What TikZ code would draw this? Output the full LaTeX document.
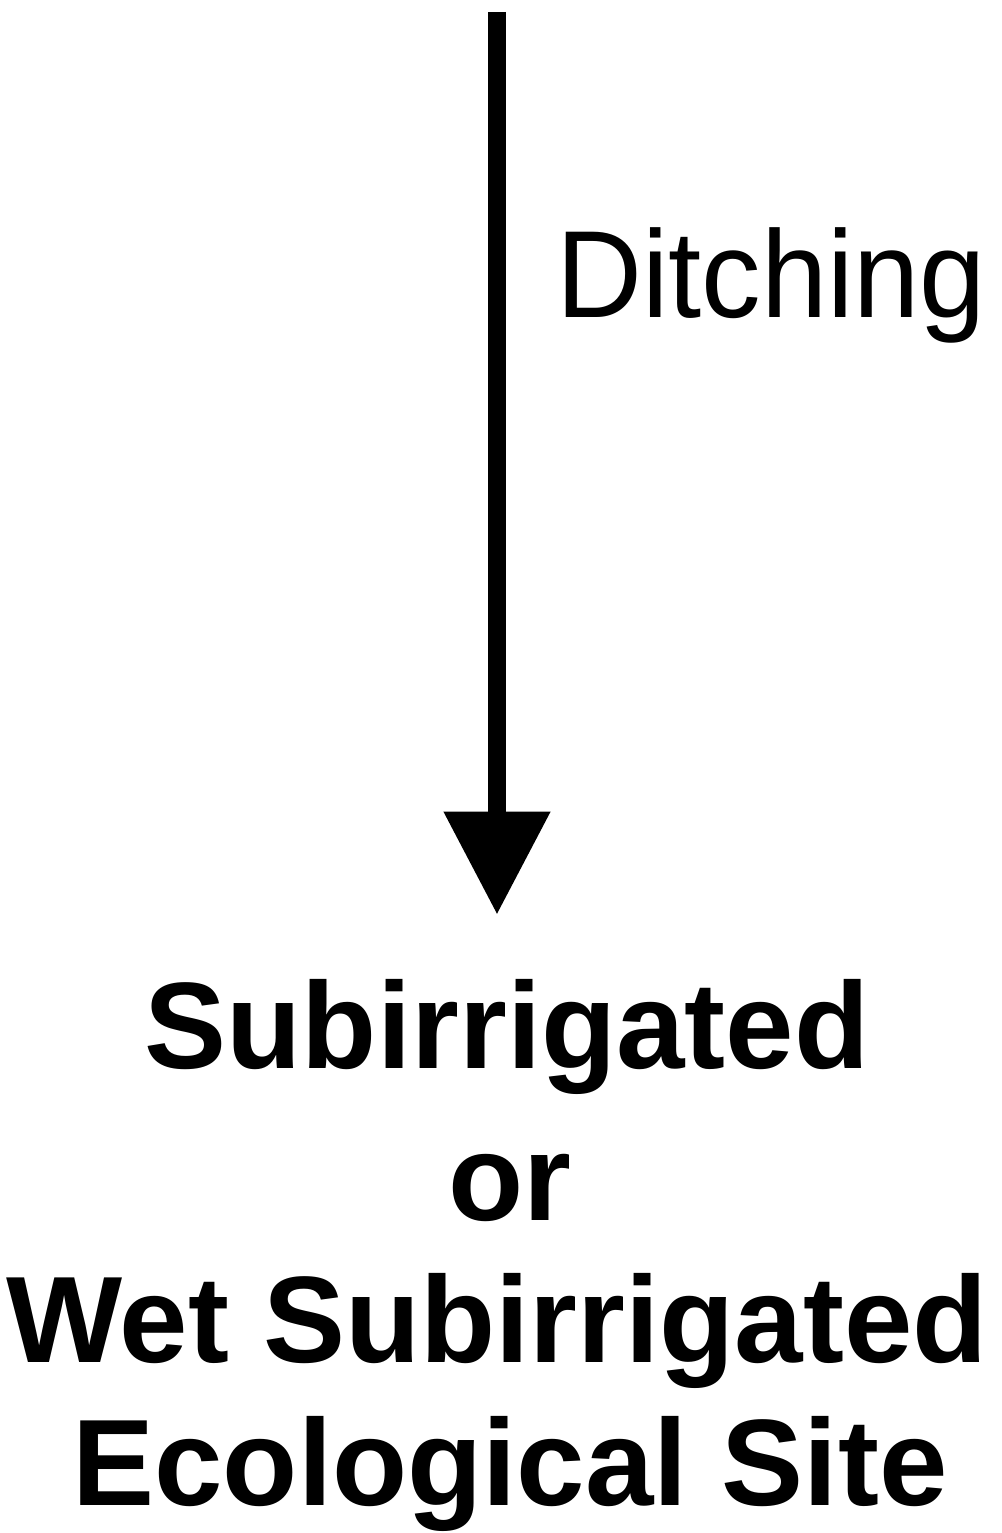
\documentclass[tikz,border=0pt]{standalone}
\usepackage{fontspec}
\setmainfont{Liberation Sans}
\usetikzlibrary{arrows.meta}
\tikzset{
  boldlabel/.style={inner sep=0pt, anchor=base, font=\fontsize{123}{123}\selectfont\bfseries},
  plainlabel/.style={inner sep=0pt, anchor=base west, font=\fontsize{124}{124}\selectfont, xscale=0.96, transform shape},
  flow/.style={line width=18pt, -{Triangle[width=102pt,length=103pt]}}
}
\begin{document}
\begin{tikzpicture}[x=1pt,y=1pt]
\fill[white] (0,0) rectangle (1001,-1533);
\useasboundingbox (0,0) rectangle (1001,-1533);
\coordinate (start) at (497,-12);
\node[plainlabel] (ditch) at (556,-317) {Ditching};
\node[boldlabel] (sub) at (507,-1068) {Subirrigated};
\node[boldlabel] (or) at (510,-1220) {or};
\node[boldlabel] (wet) at (497,-1362) {Wet Subirrigated};
\node[boldlabel] (eco) at (510,-1505) {Ecological Site};
\draw[flow, shorten >=64pt] (start) -- (start |- sub.north);
\end{tikzpicture}
\end{document}
